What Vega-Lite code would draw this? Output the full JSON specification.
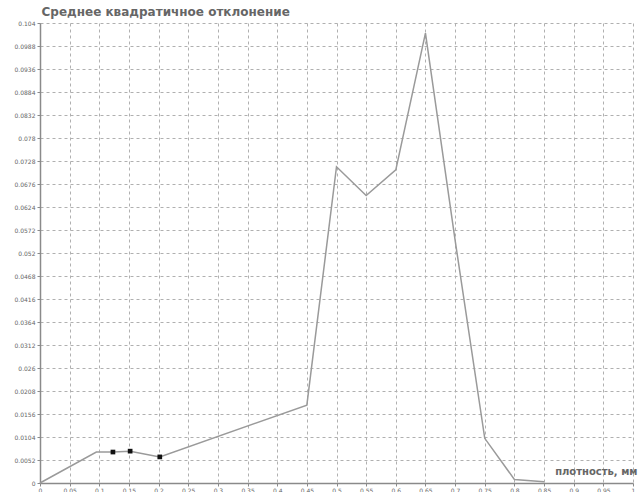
{
  "$schema": "https://vega.github.io/schema/vega-lite/v6.json",
  "width": 593,
  "height": 460,
  "autosize": {"type": "none"},
  "padding": {"left": 40, "top": 23, "right": 6, "bottom": 9},
  "background": "white",
  "config": {
    "view": {"stroke": null},
    "font": "DejaVu Sans"
  },
  "datasets": {
    "curve": [
      {"x": 0, "y": 0},
      {"x": 0.095, "y": 0.0070},
      {"x": 0.123, "y": 0.0070},
      {"x": 0.152, "y": 0.0072},
      {"x": 0.202, "y": 0.0059},
      {"x": 0.45, "y": 0.0176},
      {"x": 0.5, "y": 0.0715},
      {"x": 0.55, "y": 0.065},
      {"x": 0.6, "y": 0.0708},
      {"x": 0.65, "y": 0.1017},
      {"x": 0.7, "y": 0.0549},
      {"x": 0.75, "y": 0.0101},
      {"x": 0.8, "y": 0.0008},
      {"x": 0.85, "y": 0.0003}
    ],
    "marked": [
      {"x": 0.123, "y": 0.0070},
      {"x": 0.152, "y": 0.0072},
      {"x": 0.202, "y": 0.0059}
    ]
  },
  "encoding": {
    "x": {
      "field": "x", "type": "quantitative",
      "scale": {"domain": [0, 1], "nice": false, "zero": true},
      "axis": {
        "values": [0, 0.05, 0.1, 0.15, 0.2, 0.25, 0.3, 0.35, 0.4, 0.45, 0.5, 0.55, 0.6, 0.65, 0.7, 0.75, 0.8, 0.85, 0.9, 0.95, 1],
        "labelExpr": "toString(datum.value)",
        "grid": true,
        "gridColor": "#b0b0b0",
        "gridDash": [3, 3],
        "gridWidth": 1,
        "domainColor": "#8a8a8a",
        "domainWidth": 1.5,
        "tickColor": "#8a8a8a",
        "tickSize": 3,
        "labelFontSize": 6,
        "labelColor": "#666666",
        "labelPadding": 1,
        "labelFlush": false,
        "labelOverlap": false,
        "labelBound": false,
        "title": "плотность, мм",
        "titleFontSize": 10,
        "titleFontWeight": "bold",
        "titleColor": "#666666",
        "titleAlign": "right",
        "titleBaseline": "bottom",
        "titleX": 597,
        "titleY": -7
      }
    },
    "y": {
      "field": "y", "type": "quantitative",
      "scale": {"domain": [0, 0.104], "nice": false, "zero": true},
      "axis": {
        "values": [0, 0.0052, 0.0104, 0.0156, 0.0208, 0.026, 0.0312, 0.0364, 0.0416, 0.0468, 0.052, 0.0572, 0.0624, 0.0676, 0.0728, 0.078, 0.0832, 0.0884, 0.0936, 0.0988, 0.104],
        "labelExpr": "toString(datum.value)",
        "grid": true,
        "gridColor": "#b0b0b0",
        "gridDash": [3, 3],
        "gridWidth": 1,
        "domainColor": "#8a8a8a",
        "domainWidth": 1.5,
        "tickColor": "#8a8a8a",
        "tickSize": 3,
        "labelFontSize": 6,
        "labelColor": "#666666",
        "labelPadding": 2,
        "labelFlush": false,
        "labelOverlap": false,
        "labelBound": false,
        "title": "Среднее квадратичное отклонение",
        "titleFontSize": 12,
        "titleFontWeight": "bold",
        "titleColor": "#666666",
        "titleAngle": 0,
        "titleAlign": "left",
        "titleBaseline": "bottom",
        "titleX": 1,
        "titleY": -5
      }
    }
  },
  "layer": [
    {
      "data": {"name": "curve"},
      "mark": {"type": "line", "color": "#9a9a9a", "strokeWidth": 1.5}
    },
    {
      "data": {"name": "marked"},
      "mark": {"type": "square", "color": "#111111", "opacity": 1, "size": 22, "filled": true}
    }
  ]
}
